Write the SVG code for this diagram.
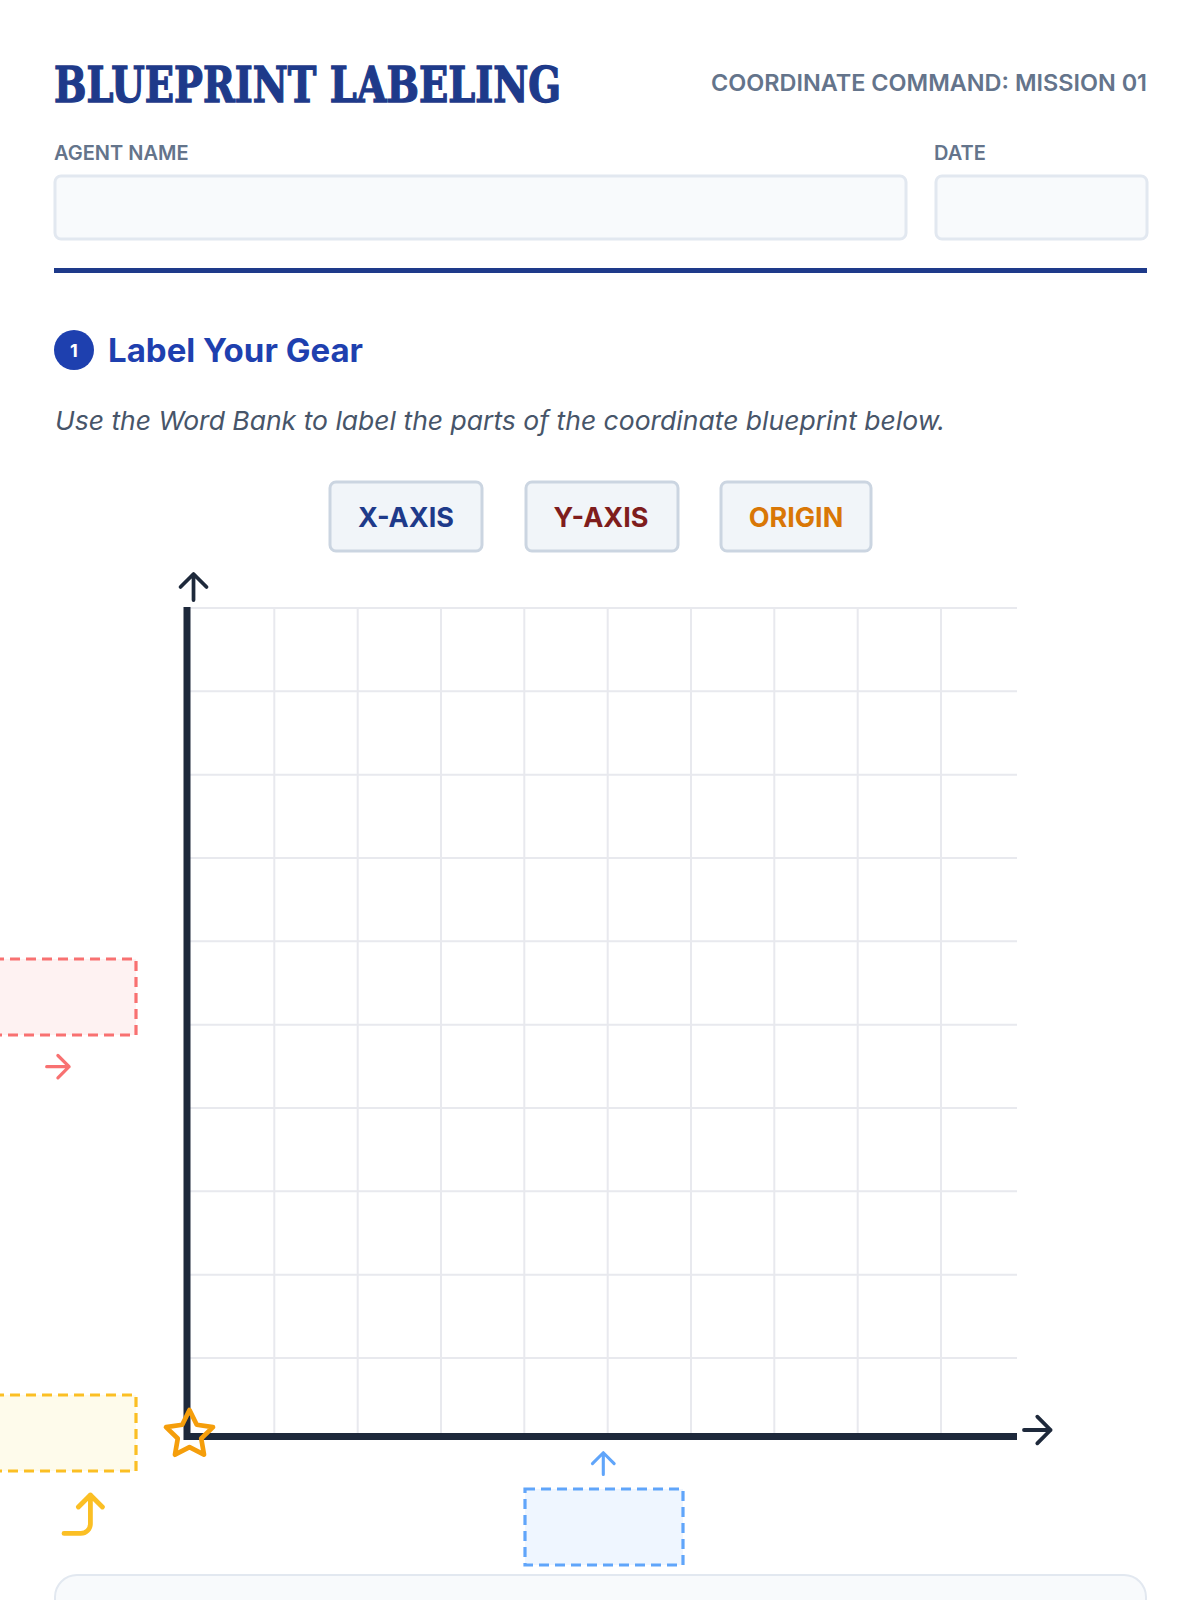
<svg xmlns="http://www.w3.org/2000/svg" width="1200" height="1600" viewBox="0 0 1200 1600">
<style>
.sans{font-family:Inter,"Noto Sans","Liberation Sans",sans-serif}
.lbl{font-family:Inter,"Liberation Sans",sans-serif;font-size:20px;font-weight:600;fill:#64748b}
.field{fill:#f8fafc;stroke:#e2e8f0;stroke-width:3}
.btn{fill:#f1f5f9;stroke:#cbd5e1;stroke-width:3}
.btntxt{font-family:Inter,"Liberation Sans",sans-serif;font-size:27px;font-weight:700;text-anchor:middle}
.grid{stroke:#e8e9ee;stroke-width:2;fill:none}
.axis{stroke:#1e293b;stroke-width:7;fill:none}
.icon{fill:none;stroke-linecap:round;stroke-linejoin:round;stroke-width:2}
.dash{stroke-width:3.2;stroke-dasharray:10 6}
</style>
<rect width="1200" height="1600" fill="#ffffff"/>

<g id="header">
  <text x="54" y="102" font-family="'DejaVu Serif',serif" font-weight="700" font-size="48" fill="#1e3a8a" stroke="#1e3a8a" stroke-width="1.4" textLength="507" lengthAdjust="spacingAndGlyphs">BLUEPRINT LABELING</text>
  <text x="1147" y="91" class="sans" font-size="23" font-weight="600" fill="#64748b" text-anchor="end" textLength="436" lengthAdjust="spacingAndGlyphs">COORDINATE COMMAND: MISSION 01</text>
</g>

<g id="agent-name-field">
  <text x="54" y="160" class="lbl">AGENT NAME</text>
  <rect x="55" y="176" width="851" height="63" rx="6" class="field"/>
</g>
<g id="date-field">
  <text x="934" y="160" class="lbl">DATE</text>
  <rect x="936" y="176" width="211" height="63" rx="6" class="field"/>
</g>
<rect id="divider" x="54" y="268" width="1093" height="5" fill="#1e3a8a"/>

<g id="section-1">
  <circle cx="74" cy="350" r="20" fill="#1e40af"/>
  <text x="74" y="357" class="sans" font-size="18" font-weight="700" fill="#ffffff" text-anchor="middle">1</text>
  <text x="108" y="362" class="sans" font-size="32" font-weight="700" fill="#1e40af" textLength="255" lengthAdjust="spacingAndGlyphs">Label Your Gear</text>
  <text x="55" y="430" class="sans" font-size="26" font-style="italic" fill="#475569" textLength="890" lengthAdjust="spacingAndGlyphs">Use the Word Bank to label the parts of the coordinate blueprint below.</text>
</g>

<g id="word-x-axis">
  <rect x="330" y="482" width="152" height="69" rx="6" class="btn"/>
  <text x="406" y="527" class="btntxt" fill="#1e3a8a">X-AXIS</text>
</g>
<g id="word-y-axis">
  <rect x="526" y="482" width="152" height="69" rx="6" class="btn"/>
  <text x="601" y="527" class="btntxt" fill="#7f1d1d">Y-AXIS</text>
</g>
<g id="word-origin">
  <rect x="721" y="482" width="150" height="69" rx="6" class="btn"/>
  <text x="796" y="527" class="btntxt" fill="#d97706">ORIGIN</text>
</g>

<g id="blueprint-grid">
  <path class="grid" d="M274.3 608V1433M357.7 608V1433M441 608V1433M524.3 608V1433M607.7 608V1433M691 608V1433M774.3 608V1433M857.7 608V1433M941 608V1433
  M190 608H1017M190 691.3H1017M190 774.7H1017M190 858H1017M190 941.3H1017M190 1024.7H1017M190 1108H1017M190 1191.3H1017M190 1274.7H1017M190 1358H1017"/>
  <path class="axis" d="M187 607V1436.5H1017"/>
</g>

<g id="label-y-axis">
  <rect x="-22" y="959" width="158" height="76" fill="#fef2f2" stroke="#f87171" class="dash"/>
</g>
<g id="label-origin">
  <rect x="-22" y="1395" width="158" height="76" fill="#fefbeb" stroke="#fbbf24" class="dash"/>
</g>
<g id="label-x-axis">
  <rect x="525" y="1489" width="158" height="76" fill="#eff6ff" stroke="#60a5fa" class="dash"/>
</g>

<g id="connectors">
  <g transform="translate(171.2 564.7) scale(1.86)" class="icon" stroke="#1e293b"><path d="M12 19V5M5 12l7-7 7 7"/></g>
  <g transform="translate(1014.5 1407.2) scale(1.9)" class="icon" stroke="#1e293b"><path d="M5 12h14M12 5l7 7-7 7"/></g>
  <g transform="translate(38.7 1047.5) scale(1.6)" class="icon" stroke="#f87171"><path d="M5 12h14M12 5l7 7-7 7"/></g>
  <g transform="translate(54.4 1485.4) scale(2.4)" class="icon" stroke="#fbbf24"><path d="M10 9l5-5 5 5M4 20h7a4 4 0 0 0 4-4V4"/></g>
  <g transform="translate(584.7 1445) scale(1.55)" class="icon" stroke="#60a5fa"><path d="M12 19V5M5 12l7-7 7 7"/></g>
</g>

<g id="origin-star" transform="translate(161.3 1405.3) scale(2.35)" class="icon" stroke="#f59e0b">
  <polygon points="12 2 15.09 8.26 22 9.27 17 14.14 18.18 21.02 12 17.77 5.82 21.02 7 14.14 2 9.27 8.91 8.26 12 2"/>
</g>

<rect id="next-card" x="55" y="1575" width="1091" height="80" rx="22" fill="#f8fafc" stroke="#e2e8f0" stroke-width="2"/>
</svg>
